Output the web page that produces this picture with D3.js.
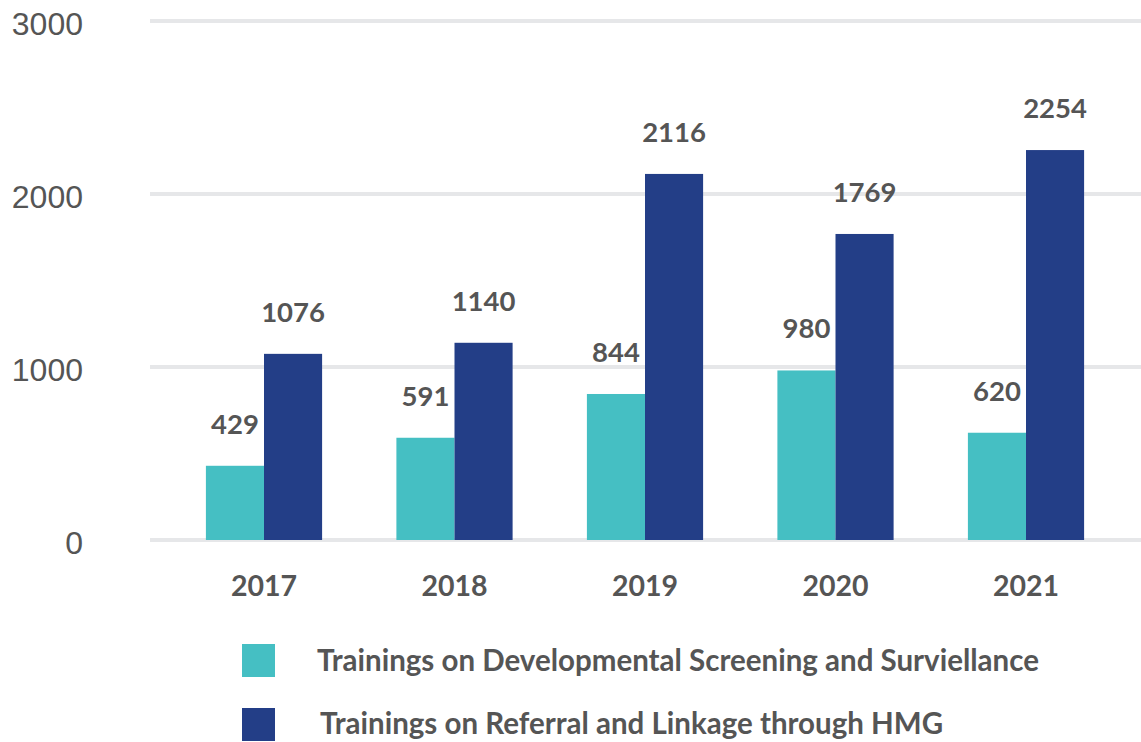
<!DOCTYPE html>
<html>
<head>
<meta charset="utf-8">
<script src="https://cdn.jsdelivr.net/npm/d3@7"></script>
<style>
  body { margin: 0; background: #fff; }
  svg { display: block; }
</style>
</head>
<body>
<div id="chart"></div>
<script>
// Data
const years = ["2017", "2018", "2019", "2020", "2021"];
const screening = [429, 591, 844, 980, 620];
const referral = [1076, 1140, 2116, 1769, 2254];
const seriesNames = [
    "Trainings on Developmental Screening and Surviellance",
    "Trainings on Referral and Linkage through HMG"
];
const yTicks = [0, 1000, 2000, 3000];

const width = 1141, height = 742;
const colors = ["#45bfc3", "#233e87"];
const textColor = "#555555";

const svg = d3.select("#chart")
    .append("svg")
    .attr("width", width)
    .attr("height", height);

// Y scale: 0 at y=540, 3000 at y=21
const y = d3.scaleLinear()
    .domain([0, 3000])
    .range([540, 21]);

// X scale for year groups
const x = d3.scaleBand()
    .domain(years)
    .range([168.75, 1121.25])
    .paddingInner(0.39)
    .paddingOuter(0.195);

const x1 = d3.scaleBand()
    .domain([0, 1])
    .range([0, x.bandwidth()]);

// Gridlines
svg.append("g")
    .selectAll("line")
    .data(yTicks)
    .enter().append("line")
    .attr("x1", 150)
    .attr("x2", width)
    .attr("y1", d => y(d))
    .attr("y2", d => y(d))
    .attr("stroke", "#e6e7e9")
    .attr("stroke-width", 4);

// Y tick labels
svg.append("g")
    .selectAll("text")
    .data(yTicks)
    .enter().append("text")
    .attr("x", 83)
    .attr("y", d => y(d) + 3)
    .attr("dy", "0.35em")
    .attr("text-anchor", "end")
    .attr("font-family", "'Liberation Sans', Arial, sans-serif")
    .attr("font-size", "32px")
    .attr("fill", textColor)
    .text(d => d);

// Bars
const rows = years.map((yr, i) => ({ year: yr, values: [screening[i], referral[i]] }));

const groups = svg.append("g")
    .selectAll("g")
    .data(rows)
    .enter().append("g")
    .attr("transform", d => `translate(${x(d.year)},0)`);

groups.selectAll("rect")
    .data(d => d.values.map((v, k) => ({ k, v })))
    .enter().append("rect")
    .attr("x", d => x1(d.k))
    .attr("width", x1.bandwidth())
    .attr("y", d => y(d.v))
    .attr("height", d => y(0) - y(d.v))
    .attr("fill", d => colors[d.k]);

// Value labels
groups.selectAll("text")
    .data(d => d.values.map((v, k) => ({ k, v })))
    .enter().append("text")
    .attr("x", d => x1(d.k) + x1.bandwidth() / 2)
    .attr("y", d => y(d.v) - 32)
    .attr("text-anchor", "middle")
    .attr("font-family", "Lato, sans-serif")
    .attr("font-weight", "bold")
    .attr("font-size", "27.5px")
    .attr("fill", textColor)
    .text(d => d.v);

// Year labels
svg.append("g")
    .selectAll("text")
    .data(years)
    .enter().append("text")
    .attr("x", d => x(d) + x.bandwidth() / 2)
    .attr("y", 596)
    .attr("text-anchor", "middle")
    .attr("font-family", "Lato, sans-serif")
    .attr("font-weight", "bold")
    .attr("font-size", "28.5px")
    .attr("fill", textColor)
    .text(d => d);

// Legend
const legend = svg.append("g")
    .selectAll("g")
    .data(seriesNames)
    .enter().append("g")
    .attr("transform", (d, i) => `translate(242,${644 + i * 64})`);

legend.append("rect")
    .attr("width", 33)
    .attr("height", 33)
    .attr("fill", (d, i) => colors[i]);

legend.append("text")
    .attr("x", (d, i) => 75 + i * 3)
    .attr("y", (d, i) => 27 - i)
    .attr("font-family", "Lato, sans-serif")
    .attr("font-weight", "bold")
    .attr("font-size", "29.5px")
    .attr("fill", textColor)
    .text(d => d);
</script>
</body>
</html>
